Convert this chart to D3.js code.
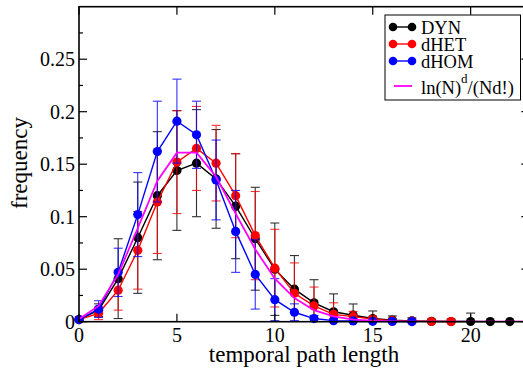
<!DOCTYPE html>
<html><head><meta charset="utf-8">
<script src="https://cdn.jsdelivr.net/npm/d3@7"></script>
<style>html,body{margin:0;padding:0;background:#fff;}svg{display:block;}</style>
</head><body>
<svg id="chart" width="523" height="371"></svg>
<script>
// ---- data ----
const dynX = d3.range(0, 23);
const dynY = [0.002,0.011,0.041,0.080,0.120,0.144,0.151,0.136,0.110,0.079,0.050,0.031,0.018,0.0095,0.0062,0.003,0.0015,0.0007,0.0004,0.0002,0.0002,0.0001,0.0001];
const dynErr = [0.001,0.006,0.038,0.053,0.061,0.057,0.051,0.047,0.050,0.049,0.044,0.032,0.022,0.017,0.0107,0.0072,0.004,0.003,0.002,0.002,0.008,0.001,0.001];

const hetX = d3.range(0, 20);
const hetY = [0.002,0.008,0.030,0.068,0.114,0.152,0.165,0.151,0.120,0.082,0.051,0.027,0.015,0.007,0.0048,0.0025,0.001,0.0005,0.0002,0.0001];
const hetErr = [0.001,0.006,0.019,0.037,0.049,0.049,0.040,0.036,0.040,0.042,0.037,0.029,0.018,0.011,0.005,0.002,0.001,0.001,0.001,0.001];

const homX = d3.range(0, 18);
const homY = [0.002,0.012,0.047,0.102,0.162,0.191,0.178,0.135,0.086,0.045,0.021,0.009,0.003,0.001,0.0007,0.0004,0.0002,0.0001];
const homErr = [0.001,0.008,0.023,0.040,0.048,0.040,0.032,0.038,0.039,0.033,0.020,0.008,0.003,0.002,0.002,0.001,0.001,0.0005];

const theoX = d3.range(0, 24);
const theoY = [0.0025,0.015,0.045,0.089,0.134,0.161,0.161,0.138,0.103,0.069,0.041,0.0225,0.011,0.005,0.002,0.001,0.0004,0.0001,0,0,0,0,0,0];

const seriesNames = ["DYN","dHET","dHOM"];
const xTicks = [0,5,10,15,20];
const xTickLabels = ["0","5","10","15","20"];
const yTicks = [0,0.05,0.1,0.15,0.2,0.25];
const yTickLabels = ["0","0.05","0.1","0.15","0.2","0.25"];
const yMinor = [0.025,0.075,0.125,0.175,0.225,0.275];

// ---- layout ----
const svg = d3.select("#chart");
const pL = 79, pR = 529.4, pT = 6.7, pB = 321.7;
const x = d3.scaleLinear().domain([0, 23]).range([pL, pR]);
const y = d3.scaleLinear().domain([0, 0.3]).range([pB, pT]);
const font = "'Liberation Serif','Times New Roman',serif";

svg.append("defs").append("clipPath").attr("id","clip")
  .append("rect").attr("x",pL).attr("y",pT).attr("width",pR-pL).attr("height",pB-pT);

const series = [
  {name: seriesNames[0], xs: dynX, ys: dynY, err: dynErr, color: "#000000"},
  {name: seriesNames[1], xs: hetX, ys: hetY, err: hetErr, color: "#ff0000"},
  {name: seriesNames[2], xs: homX, ys: homY, err: homErr, color: "#0000ff"}
];

const line = d3.line().x(d => x(d[0])).y(d => y(d[1]));

series.forEach(s => {
  const pts = s.xs.map((v, i) => [v, s.ys[i], s.err[i]]);
  const g = svg.append("g");
  const eb = g.append("g").attr("clip-path","url(#clip)").attr("stroke", s.color)
    .attr("stroke-width", 1.1).attr("opacity", 0.8);
  pts.forEach(p => {
    const xc = x(p[0]), yu = y(p[1] + p[2]), yl = y(p[1] - p[2]);
    eb.append("line").attr("x1",xc).attr("x2",xc).attr("y1",yu).attr("y2",yl);
    eb.append("line").attr("x1",xc-4.5).attr("x2",xc+4.5).attr("y1",yu).attr("y2",yu);
    eb.append("line").attr("x1",xc-4.5).attr("x2",xc+4.5).attr("y1",yl).attr("y2",yl);
  });
  g.append("path").datum(pts).attr("d", line).attr("fill","none")
    .attr("stroke", s.color).attr("stroke-width", 1.4);
  g.selectAll("circle").data(pts).enter().append("circle")
    .attr("cx", d => x(d[0])).attr("cy", d => y(d[1])).attr("r", 4.6)
    .attr("fill", s.color);
});

// theory curve
svg.append("path").datum(theoX.map((v,i)=>[v, theoY[i]])).attr("d", line)
  .attr("fill","none").attr("stroke","#ff00ff").attr("stroke-width",1.8)
  .attr("clip-path","url(#clip)");

// ---- frame & ticks ----
svg.append("rect").attr("x",pL).attr("y",pT).attr("width",pR-pL).attr("height",pB-pT)
  .attr("fill","none").attr("stroke","#000").attr("stroke-width",1.6);

const ticks = svg.append("g").attr("stroke","#000").attr("stroke-width",1.2);
xTicks.forEach(t => {
  ticks.append("line").attr("x1",x(t)).attr("x2",x(t)).attr("y1",pB).attr("y2",pB-8);
  ticks.append("line").attr("x1",x(t)).attr("x2",x(t)).attr("y1",pT).attr("y2",pT+8);
});
yTicks.forEach(t => {
  ticks.append("line").attr("x1",pL).attr("x2",pL+8).attr("y1",y(t)).attr("y2",y(t));
  ticks.append("line").attr("x1",pR).attr("x2",pR-8).attr("y1",y(t)).attr("y2",y(t));
});
yMinor.forEach(t => {
  ticks.append("line").attr("x1",pL).attr("x2",pL+4).attr("y1",y(t)).attr("y2",y(t));
  ticks.append("line").attr("x1",pR).attr("x2",pR-4).attr("y1",y(t)).attr("y2",y(t));
});

// tick labels
svg.append("g").selectAll("text").data(xTicks).enter().append("text")
  .attr("x", d => x(d)).attr("y", pB + 20).attr("text-anchor","middle")
  .attr("font-family", font).attr("font-size", 20).text((d,i) => xTickLabels[i]);
svg.append("g").selectAll("text").data(yTicks).enter().append("text")
  .attr("x", pL - 4).attr("y", d => y(d) + 7).attr("text-anchor","end")
  .attr("font-family", font).attr("font-size", 20).text((d,i) => yTickLabels[i]);

// axis titles
svg.append("text").attr("x", 304).attr("y", 362).attr("text-anchor","middle")
  .attr("font-family", font).attr("font-size", 23).text("temporal path length");
svg.append("text").attr("transform","translate(27,163) rotate(-90)").attr("text-anchor","middle")
  .attr("font-family", font).attr("font-size", 23).text("frequency");

// ---- legend ----
const lg = svg.append("g");
lg.append("rect").attr("x",385).attr("y",15).attr("width",135.5).attr("height",85)
  .attr("fill","#fff").attr("stroke","#000").attr("stroke-width",1);
const rowsY = [27, 44, 61];
series.forEach((s, i) => {
  const yy = rowsY[i];
  lg.append("line").attr("x1",393).attr("x2",412).attr("y1",yy).attr("y2",yy)
    .attr("stroke", s.color).attr("stroke-width",1.4);
  lg.append("circle").attr("cx",393).attr("cy",yy).attr("r",4.3).attr("fill",s.color);
  lg.append("circle").attr("cx",412).attr("cy",yy).attr("r",4.3).attr("fill",s.color);
  lg.append("text").attr("x",421).attr("y",yy+6.5).attr("font-family",font)
    .attr("font-size",18.5).text(s.name);
});
lg.append("line").attr("x1",394).attr("x2",412).attr("y1",86).attr("y2",86)
  .attr("stroke","#ff00ff").attr("stroke-width",1.8);
const ft = lg.append("text").attr("x",421).attr("y",93.5).attr("font-family",font).attr("font-size",18.5);
ft.append("tspan").text("ln(N)");
ft.append("tspan").attr("dy",-11).attr("font-size",13).text("d");
ft.append("tspan").attr("dy",11).text("/(Nd!)");
</script>
</body></html>
